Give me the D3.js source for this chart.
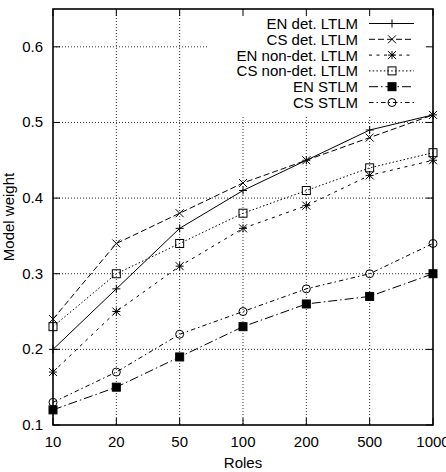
<!DOCTYPE html>
<html>
<head>
<meta charset="utf-8">
<script src="https://cdn.jsdelivr.net/npm/d3@7"></script>
<style>
  body { margin: 0; background: #fff; }
  svg text { font-family: "Liberation Sans", Arial, sans-serif; fill: #000; }
</style>
</head>
<body>
<svg id="chart" width="446" height="472"></svg>
<script>
// Model weight vs number of roles
const roles = ["10", "20", "50", "100", "200", "500", "1000"];
const yTicks = [0.1, 0.2, 0.3, 0.4, 0.5, 0.6];

const enDetLTLM    = [0.20, 0.28, 0.36, 0.41, 0.45, 0.49, 0.51];
const csDetLTLM    = [0.24, 0.34, 0.38, 0.42, 0.45, 0.48, 0.51];
const enNonDetLTLM = [0.17, 0.25, 0.31, 0.36, 0.39, 0.43, 0.45];
const csNonDetLTLM = [0.23, 0.30, 0.34, 0.38, 0.41, 0.44, 0.46];
const enSTLM       = [0.12, 0.15, 0.19, 0.23, 0.26, 0.27, 0.30];
const csSTLM       = [0.13, 0.17, 0.22, 0.25, 0.28, 0.30, 0.34];

const seriesNames = ["EN det. LTLM", "CS det. LTLM", "EN non-det. LTLM", "CS non-det. LTLM", "EN STLM", "CS STLM"];
const seriesValues = [enDetLTLM, csDetLTLM, enNonDetLTLM, csNonDetLTLM, enSTLM, csSTLM];
const dashes = [null, "6,3", "3,4.5", "1.5,2.2", "9,3,1.5,3", "4.5,3,1.5,3"];
const markers = ["plus", "cross", "star", "boxOpen", "boxFilled", "circleOpen"];

const svg = d3.select("#chart");
const margin = {top: 9, right: 13, bottom: 47, left: 53};
const w = 446 - margin.left - margin.right;
const h = 472 - margin.top - margin.bottom;
const g = svg.append("g").attr("transform", `translate(${margin.left},${margin.top})`);

const x = d3.scalePoint().domain(roles).range([0, w]);
const y = d3.scaleLinear().domain([0.1, 0.65]).range([h, 0]);

// grid
const grid = g.append("g").attr("stroke", "#000").attr("stroke-width", 0.8).attr("stroke-dasharray", "1,2");
roles.slice(1, -1).forEach(r => {
    grid.append("line").attr("x1", x(r)).attr("x2", x(r)).attr("y1", 0).attr("y2", h);
});
yTicks.slice(1).forEach(t => {
    grid.append("line").attr("x1", 0).attr("x2", w).attr("y1", y(t)).attr("y2", y(t));
});

// key background hides the grid behind it
const keyLeft = 155;
g.append("rect").attr("x", keyLeft).attr("y", 1).attr("width", w - keyLeft - 1).attr("height", 105).attr("fill", "#fff");

// tick marks on all four sides, pointing inward
const ticks = g.append("g").attr("stroke", "#000").attr("stroke-width", 1);
roles.forEach(r => {
    ticks.append("line").attr("x1", x(r)).attr("x2", x(r)).attr("y1", h).attr("y2", h - 7);
    ticks.append("line").attr("x1", x(r)).attr("x2", x(r)).attr("y1", 0).attr("y2", 7);
});
yTicks.forEach(t => {
    ticks.append("line").attr("x1", 0).attr("x2", 7).attr("y1", y(t)).attr("y2", y(t));
    ticks.append("line").attr("x1", w).attr("x2", w - 7).attr("y1", y(t)).attr("y2", y(t));
});

// tick labels
g.append("g").selectAll("text").data(roles).join("text")
    .attr("x", d => x(d)).attr("y", h + 22)
    .attr("text-anchor", "middle").attr("font-size", 15).text(d => d);
g.append("g").selectAll("text").data(yTicks).join("text")
    .attr("x", -10).attr("y", d => y(d) + 5)
    .attr("text-anchor", "end").attr("font-size", 15).text(d => d3.format(".1f")(d));

svg.append("text").attr("x", margin.left + w / 2).attr("y", 468)
    .attr("text-anchor", "middle").attr("font-size", 15).text("Roles");
svg.append("text").attr("transform", `translate(14,${margin.top + h / 2}) rotate(-90)`)
    .attr("text-anchor", "middle").attr("font-size", 15).text("Model weight");

function drawMarker(sel, type, cx, cy) {
    const s = 4;
    if (type === "plus" || type === "star") {
        sel.append("line").attr("x1", cx - s).attr("x2", cx + s).attr("y1", cy).attr("y2", cy).attr("stroke", "#000");
        sel.append("line").attr("x1", cx).attr("x2", cx).attr("y1", cy - s).attr("y2", cy + s).attr("stroke", "#000");
    }
    if (type === "cross" || type === "star") {
        sel.append("line").attr("x1", cx - s).attr("x2", cx + s).attr("y1", cy - s).attr("y2", cy + s).attr("stroke", "#000");
        sel.append("line").attr("x1", cx - s).attr("x2", cx + s).attr("y1", cy + s).attr("y2", cy - s).attr("stroke", "#000");
    }
    if (type === "boxOpen" || type === "boxFilled") {
        sel.append("rect").attr("x", cx - s).attr("y", cy - s).attr("width", 2 * s).attr("height", 2 * s)
            .attr("fill", type === "boxFilled" ? "#000" : "none").attr("stroke", "#000");
    }
    if (type === "circleOpen") {
        sel.append("circle").attr("cx", cx).attr("cy", cy).attr("r", s).attr("fill", "none").attr("stroke", "#000");
    }
}

const line = d3.line().x((d, i) => x(roles[i])).y(d => y(d));

seriesValues.forEach((vals, k) => {
    g.append("path").datum(vals)
        .attr("fill", "none").attr("stroke", "#000").attr("stroke-width", 1)
        .attr("stroke-dasharray", dashes[k])
        .attr("d", line);
    const m = g.append("g");
    vals.forEach((v, i) => drawMarker(m, markers[k], x(roles[i]), y(v)));
});

// key
const key = g.append("g");
seriesNames.forEach((name, k) => {
    const ky = 14.5 + k * 15.8;
    key.append("text").attr("x", 305).attr("y", ky + 5.5)
        .attr("text-anchor", "end").attr("font-size", 15).text(name);
    key.append("line").attr("x1", 316).attr("x2", 361).attr("y1", ky).attr("y2", ky)
        .attr("stroke", "#000").attr("stroke-width", 1).attr("stroke-dasharray", dashes[k]);
    drawMarker(key, markers[k], 339, ky);
});

// frame
g.append("rect").attr("x", 0).attr("y", 0).attr("width", w).attr("height", h)
    .attr("fill", "none").attr("stroke", "#000").attr("stroke-width", 1.6);
</script>
</body>
</html>
